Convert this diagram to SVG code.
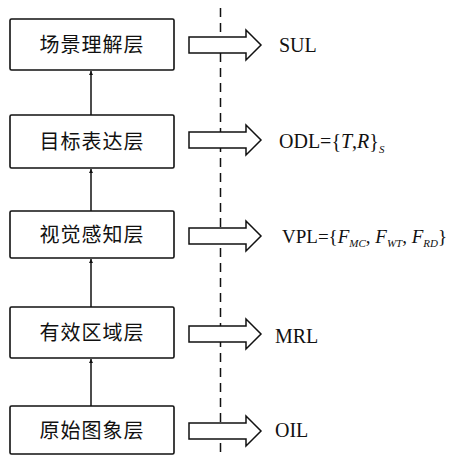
<svg xmlns="http://www.w3.org/2000/svg" width="454" height="455" viewBox="0 0 454 455">
<style>
.box{fill:#fff;stroke:#111;stroke-width:1.6}
.cn{font-family:"Noto Sans CJK SC","Noto Sans CJK JP",sans-serif;font-size:20px;fill:#111;text-anchor:middle;letter-spacing:1px}
.lab{font-family:"Liberation Serif","DejaVu Serif",serif;font-size:20px;fill:#111}
.vpl{font-size:19px}
.it{font-style:italic}
.sub{font-size:11px;font-style:italic}
.conn{stroke:#111;stroke-width:1.5;fill:none}
.big{fill:#fff;stroke:#111;stroke-width:1.5;stroke-linejoin:miter}
</style>
<defs>
<marker id="ah" viewBox="0 0 10 10" refX="10" refY="5" markerWidth="4" markerHeight="7" orient="auto" markerUnits="userSpaceOnUse">
<path d="M0,0 L10,5 L0,10 z" fill="#111"/>
</marker>
<path id="hollow" d="M0,-8 L57,-8 L57,-15 L72,0 L57,15 L57,8 L0,8 z"/>
</defs>
<line x1="220.5" y1="8" x2="220.5" y2="455" stroke="#111" stroke-width="1.5" stroke-dasharray="9,6"/>
<g id="connectors">
<line class="conn" x1="91" y1="115" x2="91" y2="71" marker-end="url(#ah)"/>
<line class="conn" x1="91" y1="211" x2="91" y2="169" marker-end="url(#ah)"/>
<line class="conn" x1="91" y1="307" x2="91" y2="259" marker-end="url(#ah)"/>
<line class="conn" x1="91" y1="406" x2="91" y2="359" marker-end="url(#ah)"/>
<use href="#hollow" class="big" x="189" y="45"/>
<use href="#hollow" class="big" x="189" y="140"/>
<use href="#hollow" class="big" x="189" y="236"/>
<use href="#hollow" class="big" x="189" y="334"/>
<use href="#hollow" class="big" x="189" y="431"/>
</g>
<g id="n1">
<rect class="box" x="10" y="19" width="164" height="51" rx="1.5"/>
<text class="cn" x="92" y="52">场景理解层</text>
</g>
<g id="n2">
<rect class="box" x="10" y="115" width="164" height="53" rx="1.5"/>
<text class="cn" x="92" y="149">目标表达层</text>
</g>
<g id="n3">
<rect class="box" x="10" y="211" width="164" height="47" rx="1.5"/>
<text class="cn" x="92" y="242">视觉感知层</text>
</g>
<g id="n4">
<rect class="box" x="10" y="307" width="164" height="51" rx="1.5"/>
<text class="cn" x="92" y="340">有效区域层</text>
</g>
<g id="n5">
<rect class="box" x="10" y="406" width="164" height="48" rx="1.5"/>
<text class="cn" x="92" y="438">原始图象层</text>
</g>
<g id="labels">
<text class="lab" x="279" y="52">SUL</text>
<text class="lab" x="279" y="148">ODL={<tspan class="it">T</tspan>,<tspan class="it">R</tspan>}<tspan class="sub" dy="5">S</tspan></text>
<text class="lab vpl" x="282" y="243">VPL={<tspan class="it">F</tspan><tspan class="sub" dy="4">MC</tspan><tspan dy="-4">, </tspan><tspan class="it">F</tspan><tspan class="sub" dy="4">WT</tspan><tspan dy="-4">, </tspan><tspan class="it">F</tspan><tspan class="sub" dy="4">RD</tspan><tspan dy="-4">}</tspan></text>
<text class="lab" x="275" y="343">MRL</text>
<text class="lab" x="275" y="437">OIL</text>
</g>
</svg>
